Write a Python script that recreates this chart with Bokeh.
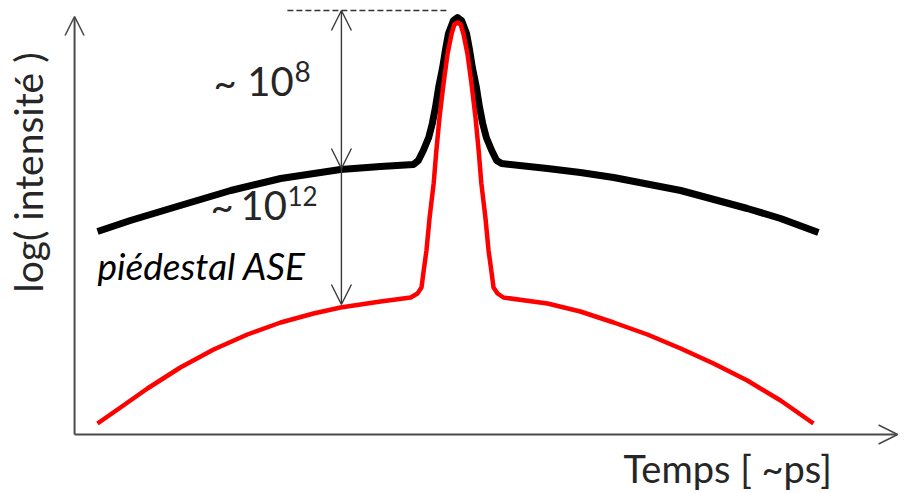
import math
from bokeh.plotting import figure
from bokeh.models import Range1d, Arrow, OpenHead, Label
from bokeh.embed import file_html
from bokeh.resources import INLINE

# ---- data (time in arbitrary ps units, log-intensity in orders of magnitude) ----
black_t = [-8.0, -7.27, -6.16, -5.04, -3.93, -2.6, -1.71, -0.98,
           -0.87, -0.76, -0.64, -0.56, -0.49, -0.42, -0.33, -0.27, -0.2, -0.09, 0.0,
           0.09, 0.2, 0.27, 0.33, 0.42, 0.49, 0.56, 0.64, 0.76, 0.87, 0.98,
           2.0, 2.73, 3.47, 4.96, 6.44, 7.18, 8.02]
black_y = [10.15, 10.7, 11.45, 12.2, 12.8, 13.25, 13.4, 13.5,
           13.7, 14.2, 14.85, 15.55, 16.35, 17.35, 18.35, 19.2, 20.05, 20.7, 20.85,
           20.7, 20.05, 19.2, 18.35, 17.35, 16.35, 15.55, 14.85, 14.2, 13.7, 13.55,
           13.3, 13.1, 12.85, 12.2, 11.3, 10.8, 10.1]

red_t = [-8.0, -7.49, -6.89, -6.16, -5.42, -4.67, -3.93, -3.2, -2.6, -1.71, -1.04,
         -0.89, -0.8, -0.76, -0.69, -0.62, -0.53, -0.47, -0.4, -0.31, -0.22, -0.13, -0.07, 0.0,
         0.07, 0.13, 0.22, 0.31, 0.4, 0.47, 0.53, 0.62, 0.69, 0.76, 0.8, 0.89, 1.02,
         2.0, 2.73, 3.47, 4.22, 4.96, 5.69, 6.44, 7.18, 7.91]
red_y = [0.55, 1.35, 2.3, 3.35, 4.25, 5.0, 5.6, 6.05, 6.35, 6.65, 6.85,
         7.05, 7.35, 8.05, 9.2, 10.85, 12.55, 14.2, 15.85, 17.55, 19.05, 20.05, 20.5, 20.6,
         20.5, 20.05, 19.05, 17.55, 15.85, 14.2, 12.55, 10.85, 9.2, 8.05, 7.35, 7.05, 6.85,
         6.55, 6.15, 5.6, 5.0, 4.3, 3.55, 2.7, 1.7, 0.55]

x_label = "Temps [ ~ps]"
y_label = "log( intensité )"
ratio_peak = "8"
ratio_ase = "12"
ase_label = "piédestal ASE"

# ---- figure ----
W, H = 907, 493
p = figure(width=W, height=H, x_range=Range1d(-10.156, 10.0), y_range=Range1d(-2.95, 21.7),
           output_backend="svg", toolbar_location=None, min_border=0,
           x_axis_type=None, y_axis_type=None, outline_line_color=None)
p.grid.visible = False
p.background_fill_color = "white"
p.border_fill_color = "white"

AX = "#4a4a4a"
x0_axis = -8.51
# axes with open arrow heads
p.add_layout(Arrow(x_start=x0_axis, y_start=0, x_end=x0_axis, y_end=20.9,
                   line_color=AX, line_width=2,
                   end=OpenHead(size=19, line_color=AX, line_width=1.6)))
p.add_layout(Arrow(x_start=x0_axis, y_start=0, x_end=9.78, y_end=0,
                   line_color=AX, line_width=2,
                   end=OpenHead(size=19, line_color=AX, line_width=1.6)))

# curves
p.line(black_t, black_y, line_color="black", line_width=7, line_join="round", line_cap="butt")
p.line(red_t, red_y, line_color="#ff0000", line_width=4.5, line_join="round", line_cap="butt")

# dashed reference at the peak level
peak_level = 21.2
p.line([-3.78, -0.22], [peak_level, peak_level], line_color="#333333", line_width=1.3, line_dash="6 3")

# double arrows for the contrast ratios
AR = "#3a3a3a"
xa = -2.58
p.add_layout(Arrow(x_start=xa, y_start=13.3, x_end=xa, y_end=peak_level,
                   line_color=AR, line_width=1.4,
                   start=OpenHead(size=20, line_color=AR, line_width=1.4),
                   end=OpenHead(size=20, line_color=AR, line_width=1.4)))
p.add_layout(Arrow(x_start=xa, y_start=13.3, x_end=xa, y_end=6.5,
                   line_color=AR, line_width=1.4, start=None,
                   end=OpenHead(size=20, line_color=AR, line_width=1.4)))

TXT = "#262626"
FONT = "Lato"

def lab(x, y, text, size, color=TXT, style="normal", angle=0.0, align="left", baseline="alphabetic"):
    p.add_layout(Label(x=x, y=y, text=text, text_font=FONT, text_font_size=size,
                       text_color=color, text_font_style=style, angle=angle,
                       text_align=align, text_baseline=baseline))

# ~ 10^8
lab(-5.42, 17.65, "~", "40px")
lab(-4.67, 17.65, "10", "40px")
lab(-3.62, 18.13, ratio_peak, "28px")
# ~ 10^12
lab(-5.49, 11.45, "~", "40px")
lab(-4.82, 11.45, "10", "40px")
lab(-3.78, 11.95, ratio_ase, "26px")
# pedestal label
lab(-8.0, 8.45, ase_label, "37px", color="black", style="italic")
# axis labels
lab(3.69, -1.68, x_label, "38px")
lab(-9.55, 13.1, y_label, "39px", angle=math.pi / 2, align="center")

open("out.html", "w").write(file_html(p, INLINE))
